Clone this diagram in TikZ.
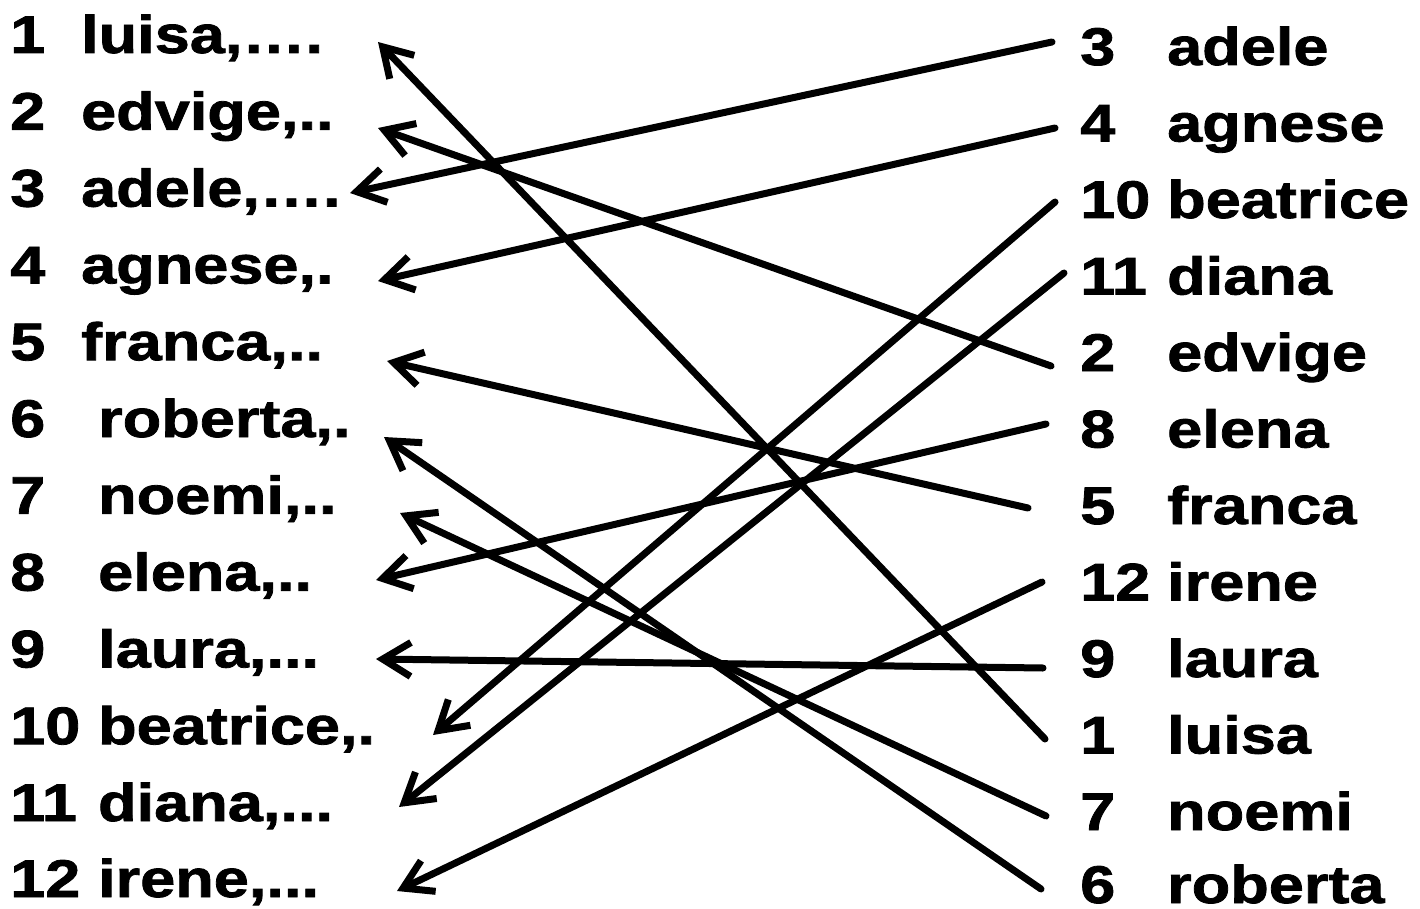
\documentclass[tikz,border=0pt]{standalone}
\usepackage{fontspec}
\newfontfamily\lab{Liberation Sans}[FakeStretch=1.19,FakeBold=1.5]
\usetikzlibrary{arrows.meta}
\tikzset{
  lbl/.style={anchor=base west, inner sep=0pt, font=\lab\bfseries\fontsize{53pt}{60pt}\selectfont},
  arr/.style={line width=7pt, line cap=round, -{Straight Barb[length=28pt,width=34pt]}},
}
\newcommand{\lnum}[2]{\makebox[#1pt][l]{#2}}
\begin{document}
\begin{tikzpicture}[x=1pt,y=-1pt]
\useasboundingbox (0,0) rectangle (1420,909);
% left column
\node[lbl] (L1)  at (10,53)  {\lnum{71}{1}luisa,….};
\node[lbl] (L2)  at (10,129.8) {\lnum{71}{2}edvige,..};
\node[lbl] (L3)  at (10,206.6) {\lnum{71}{3}adele,….};
\node[lbl] (L4)  at (10,283.4) {\lnum{71}{4}agnese,.};
\node[lbl] (L5)  at (10,360.2) {\lnum{71}{5}franca,..};
\node[lbl] (L6)  at (10,437)  {\lnum{88}{6}roberta,.};
\node[lbl] (L7)  at (10,513.8) {\lnum{88}{7}noemi,..};
\node[lbl] (L8)  at (10,590.6) {\lnum{88}{8}elena,..};
\node[lbl] (L9)  at (10,667.4) {\lnum{88}{9}laura,...};
\node[lbl] (L10) at (10,744.2) {\lnum{88}{10}beatrice,.};
\node[lbl] (L11) at (10,821)  {\lnum{88}{11}diana,...};
\node[lbl] (L12) at (10,897) {\lnum{88}{12}irene,...};
% right column
\node[lbl] (R3)  at (1080,65)   {\lnum{87}{3}adele};
\node[lbl] (R4)  at (1080,141.5) {\lnum{87}{4}agnese};
\node[lbl] (R10) at (1080,218)  {\lnum{87}{10}beatrice};
\node[lbl] (R11) at (1080,294.5) {\lnum{87}{11}diana};
\node[lbl] (R2)  at (1080,371)  {\lnum{87}{2}edvige};
\node[lbl] (R8)  at (1080,447.5) {\lnum{87}{8}elena};
\node[lbl] (R5)  at (1080,524)  {\lnum{87}{5}franca};
\node[lbl] (R12) at (1080,600.5) {\lnum{87}{12}irene};
\node[lbl] (R9)  at (1080,677)  {\lnum{87}{9}laura};
\node[lbl] (R1)  at (1080,753.5) {\lnum{87}{1}luisa};
\node[lbl] (R7)  at (1080,830)  {\lnum{87}{7}noemi};
\node[lbl] (R6)  at (1080,903) {\lnum{87}{6}roberta};
% connector ends on the right
\coordinate (s3)  at (1052,42);
\coordinate (s4)  at (1055,128);
\coordinate (s10) at (1055,202);
\coordinate (s11) at (1064,273);
\coordinate (s2)  at (1051,366);
\coordinate (s8)  at (1046,424);
\coordinate (s5)  at (1028,508);
\coordinate (s12) at (1042,582);
\coordinate (s9)  at (1043,668);
\coordinate (s1)  at (1045,739);
\coordinate (s7)  at (1046,816);
\coordinate (s6)  at (1041,889);
% arrow tips on the left
\coordinate (t1)  at (378,42);
\coordinate (t2)  at (378,128);
\coordinate (t3)  at (350,193);
\coordinate (t4)  at (378,281);
\coordinate (t5)  at (387,361);
\coordinate (t6)  at (384,437);
\coordinate (t7)  at (400,513);
\coordinate (t8)  at (376,580);
\coordinate (t9)  at (376,659);
\coordinate (t10) at (433,735);
\coordinate (t11) at (399,807);
\coordinate (t12) at (397,891);
\foreach \i in {1,...,12}{\draw[arr] (s\i) -- (t\i);}
\end{tikzpicture}
\end{document}
